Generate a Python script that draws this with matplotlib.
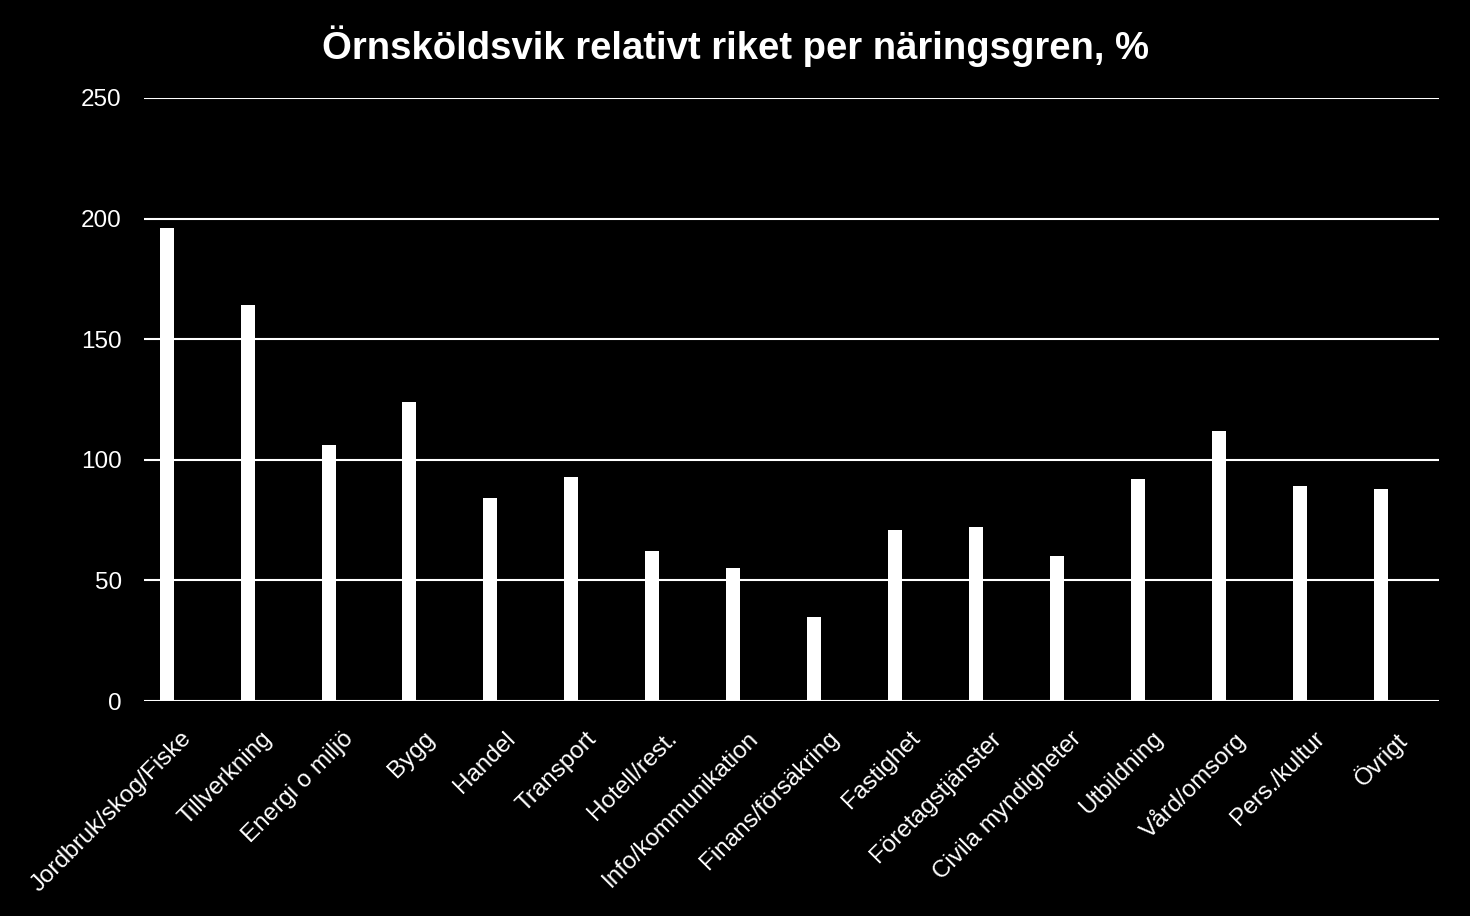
import matplotlib
matplotlib.use("Agg")
import matplotlib.pyplot as plt
import matplotlib.transforms as mtransforms
import numpy as np

categories = ["Jordbruk/skog/Fiske", "Tillverkning", "Energi o miljö", "Bygg", "Handel",
              "Transport", "Hotell/rest.", "Info/kommunikation", "Finans/försäkring",
              "Fastighet", "Företagstjänster", "Civila myndigheter", "Utbildning",
              "Vård/omsorg", "Pers./kultur", "Övrigt"]
values = [196, 164, 106, 124, 84, 93, 62, 55, 35, 71, 72, 60, 92, 112, 89, 88]
yticks = [0, 50, 100, 150, 200, 250]

plt.rcParams['font.family'] = ['Liberation Sans', 'DejaVu Sans']

fig = plt.figure(figsize=(14.7, 9.16), dpi=100, facecolor='black')
ax = fig.add_axes([144/1470, 1 - 701/916, (1439-144)/1470, (701-98)/916])
ax.set_facecolor('black')

x = np.arange(len(categories))
ax.bar(x - 0.22, values, width=0.173, color='white', zorder=3)

ax.set_xlim(-0.5, len(categories) - 0.5)
ax.set_ylim(0, 250)
ax.set_yticks(yticks)
ax.set_yticklabels([str(t) for t in yticks], color='white', fontsize=17.5)
ax.yaxis.grid(True, color='white', linewidth=1.5, zorder=1)
ax.set_axisbelow(True)
ax.tick_params(axis='y', length=0, pad=16)
ax.tick_params(axis='x', length=0, pad=19)
ax.set_xticks(x)
ax.set_xticklabels(categories, rotation=45, ha='right', rotation_mode='anchor',
                   color='white', fontsize=17.5)
offset = mtransforms.ScaledTranslation(-4/100, 0, fig.dpi_scale_trans)
for lbl in ax.get_xticklabels():
    lbl.set_transform(lbl.get_transform() + offset)
for s in ax.spines.values():
    s.set_visible(False)

fig.text(0.5, 1 - 59/916, "Örnsköldsvik relativt riket per näringsgren, %", color='white',
         fontsize=27.5, fontweight='bold', ha='center', va='baseline')

fig.savefig("out.png", dpi=100, facecolor='black')
